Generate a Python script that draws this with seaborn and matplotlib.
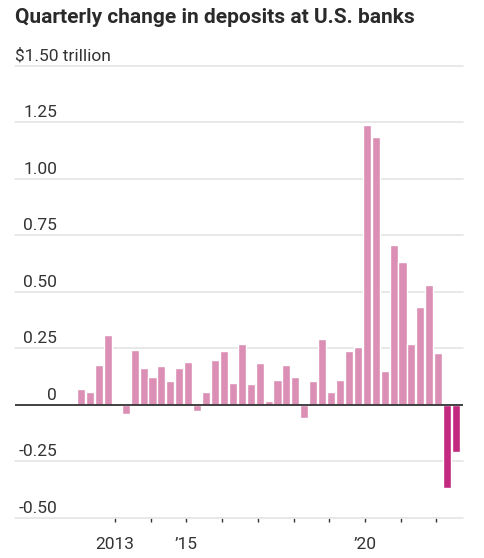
import numpy as np
import pandas as pd
import seaborn as sns
import matplotlib.pyplot as plt
from matplotlib import font_manager


# quarterly change in deposits, trillions of dollars, 2012Q1 .. 2022Q3
quarters = pd.period_range("2012Q1", "2022Q3", freq="Q")
change = [
    0.071, 0.059, 0.178, 0.311,
    0.000, -0.041, 0.245, 0.165,
    0.125, 0.172, 0.105, 0.165,
    0.191, -0.027, 0.059, 0.199,
    0.239, 0.099, 0.271, 0.092,
    0.185, 0.019, 0.111, 0.178,
    0.125, -0.059, 0.104, 0.292,
    0.058, 0.111, 0.239, 0.258,
    1.238, 1.186, 0.151, 0.706,
    0.632, 0.271, 0.431, 0.532,
    0.231, -0.368, -0.208,
]
highlight = ["no"] * 41 + ["yes"] * 2

y_ticks = [1.5, 1.25, 1.0, 0.75, 0.5, 0.25, 0, -0.25, -0.5]
y_labels = ["$1.50 trillion", "1.25", "1.00", "0.75", "0.50", "0.25", "0", "-0.25", "-0.50"]
x_ticks = list(range(2013, 2023))
x_labels = ["2013", "", "\u201915", "", "", "", "", "\u201920", "", ""]

df = pd.DataFrame({
    "x": quarters.year + (quarters.quarter - 1) / 4 + 0.05,
    "change": change,
    "highlight": highlight,
})

sns.set_style("white")
installed = {f.name for f in font_manager.fontManager.ttflist}
fam = "Liberation Sans Narrow" if "Liberation Sans Narrow" in installed else "Roboto"
plt.rcParams["font.family"] = [fam, "DejaVu Sans"]

fig = plt.figure(figsize=(4.85, 5.58), dpi=100)
ax = fig.add_axes([15 / 485, 40 / 558, 448 / 485, 452.3 / 558])

sns.barplot(data=df, x="x", y="change", hue="highlight",
            palette={"no": "#db8fb5", "yes": "#c2297f"},
            native_scale=True, dodge=False, width=0.9,
            legend=False, saturation=1, ax=ax, zorder=3)

for v in y_ticks:
    if v == 0:
        ax.axhline(0, color="#333333", lw=1.3, zorder=4)
    else:
        ax.axhline(v, color="#e2e2e2", lw=1.1, zorder=1, clip_on=False)

trans = ax.get_yaxis_transform()
for v, lab in zip(y_ticks, y_labels):
    if v == 1.5:
        ax.annotate(lab, (0, v), xycoords=trans, xytext=(0, 1.5),
                    textcoords="offset points", ha="left", va="bottom",
                    fontsize=12.5, color="#333333")
    else:
        ax.annotate(lab, (42 / 448, v), xycoords=trans, xytext=(0, 1.5),
                    textcoords="offset points", ha="right", va="bottom",
                    fontsize=12.5, color="#333333")

ax.set_xlim(2010.2, 2022.744)
ax.set_ylim(-0.5, 1.5)
ax.set_yticks([])
ax.set_xticks(x_ticks)
ax.set_xticklabels(x_labels, fontsize=12.5, color="#333333")
ax.tick_params(axis="x", bottom=True, length=3, width=1, color="#333333", pad=11)
ax.set_xlabel("")
ax.set_ylabel("")
sns.despine(ax=ax, left=True, bottom=True)

fig.text(15 / 485, 1 - 8 / 558, "Quarterly change in deposits at U.S. banks",
         fontsize=15, fontweight="bold", color="#2a2a2a", ha="left", va="top")

fig.savefig("out.png", dpi=100)
